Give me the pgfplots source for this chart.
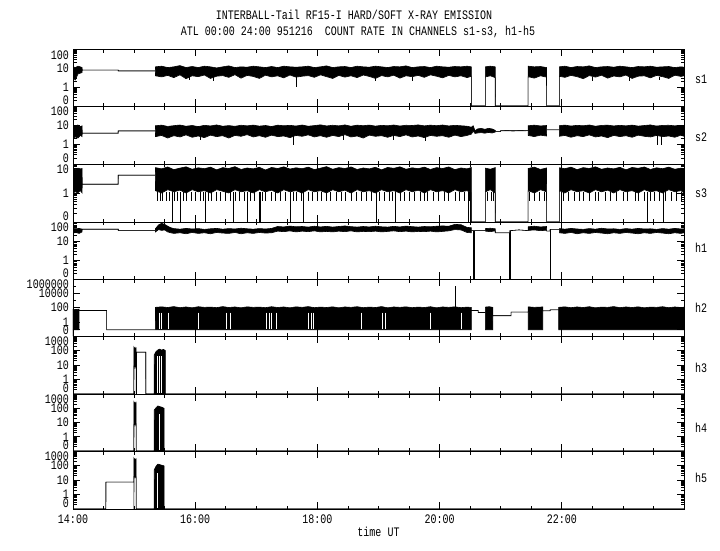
\documentclass[border=0pt]{standalone}
\usepackage{fontspec}
\setmainfont{Liberation Mono}[FakeStretch=0.77]
\usepackage{pgfplots}
\usepackage{pgfplotstable}
\pgfplotsset{compat=1.18}
\newcommand\gf{\fontsize{13pt}{14pt}\selectfont}
\newcommand\bl[1]{\raisebox{1.2pt}[0pt][0pt]{#1}}
\newcommand\tl[1]{\raisebox{-9.8pt}[0pt][0pt]{#1}}

\pgfplotstableread{
x lo hi
14.00 3.0 12
14.04 2.4 11
14.08 5.0 13
14.12 5.5 12
14.15 6.0 11
14.151 8.1 8.1
14.74 8.1 8.1
14.741 7.2 7.2
15.349 7.2 7.2
15.35 4.0 12
15.45 3.5 13
15.55 4.2 11
15.65 3.2 12
15.75 4.5 14
15.85 2.8 11
15.95 4.0 12.5
16.05 3.6 11
16.15 4.4 13
16.25 2.9 12
16.35 3.8 10.5
16.45 4.1 12
16.55 3.3 13.5
16.65 4.6 11
16.75 3.0 12
16.85 4.2 11.5
16.95 3.7 13
17.05 2.9 12
17.15 4.3 11
17.25 3.5 12.5
17.35 4.0 11
17.45 3.1 13
17.55 4.4 12
17.65 3.4 11.5
17.75 3.8 12
17.85 4.1 13
17.95 3.3 11
18.05 4.5 12
18.15 3.6 13.5
18.25 2.9 11
18.35 4.2 12
18.45 3.4 12.5
18.55 4.0 11
18.65 3.2 13
18.75 4.4 12
18.85 3.7 11.5
18.95 2.9 13
19.05 4.1 12
19.15 3.5 11
19.25 4.3 12.5
19.35 3.0 12
19.45 4.0 13.5
19.55 3.6 11
19.65 4.2 12
19.75 3.3 12.5
19.85 4.5 11
19.95 3.8 13
20.05 3.1 12
20.15 4.2 11.5
20.25 3.5 12.5
20.35 4.0 12
20.45 3.2 13
20.52 3.8 12
20.521 0.1 0.1
20.749 0.1 0.1
20.75 3.5 12
20.83 4.0 13
20.91 3.2 12
20.911 0.1 0.1
21.449 0.1 0.1
21.45 3.6 13
21.55 3.0 12
21.65 4.0 12.5
21.75 3.4 11
21.751 0.1 0.1
21.959 0.1 0.1
21.96 3.8 12
22.05 3.3 13
22.15 4.2 11
22.25 3.6 12.5
22.35 2.8 12
22.45 4.1 13.5
22.55 3.4 11
22.65 4.3 12
22.75 3.0 12.5
22.85 3.9 11.5
22.95 3.5 13
23.05 4.4 12
23.15 2.9 11
23.25 3.8 12.5
23.35 4.0 12
23.45 3.1 13
23.55 4.2 11.5
23.65 3.6 12
23.75 2.9 12.5
23.85 4.3 11
23.95 3.7 12
24.00 4.0 11.5
}\tsone

\pgfplotstableread{
x lo hi
14.00 2.1 10
14.04 2.5 9
14.08 2.2 10.4
14.12 3.0 8.5
14.15 2.6 9.5
14.151 3.9 3.9
14.74 3.9 3.9
14.741 5.1 5.1
15.349 5.1 5.1
15.35 2.6 9.5
15.45 3.0 10.2
15.55 2.2 8.8
15.65 2.9 9.6
15.75 2.5 10.4
15.85 3.2 9.0
15.95 2.4 9.8
16.05 2.8 8.6
16.15 2.3 10.0
16.25 3.1 9.3
16.35 2.6 10.5
16.45 2.9 9.0
16.55 2.2 9.7
16.65 3.0 8.9
16.75 2.7 10.1
16.85 3.3 9.4
16.95 2.5 10.3
17.05 2.9 9.1
17.15 2.4 9.8
17.25 3.1 8.7
17.35 2.6 10.2
17.45 2.8 9.5
17.55 2.3 10.0
17.65 3.0 9.2
17.75 2.7 10.4
17.85 3.2 9.0
17.95 2.5 9.7
18.05 2.9 10.6
18.15 2.4 9.3
18.25 3.0 10.1
18.35 2.6 9.4
18.45 3.3 10.5
18.55 2.5 9.0
18.65 2.8 10.2
18.75 2.2 9.6
18.85 3.1 10.3
18.95 2.7 9.1
19.05 2.9 10.0
19.15 2.4 9.5
19.25 3.0 10.4
19.35 2.6 9.2
19.45 3.2 10.1
19.55 2.5 9.8
19.65 2.8 10.5
19.75 2.3 9.4
19.85 3.0 10.2
19.95 2.7 9.6
20.05 2.9 10.4
20.15 2.4 9.3
20.25 3.1 10.0
20.35 2.6 9.5
20.45 3.0 9.0
20.52 3.5 8.0
20.55 5.0 9.5
20.58 3.8 5.2
20.62 4.0 6.5
20.68 4.2 7.0
20.74 3.9 6.2
20.80 4.3 7.0
20.86 4.0 6.5
20.91 4.5 5.5
20.92 4.7 4.7
21.00 4.7 4.7
21.001 5.3 5.3
21.20 5.1 5.5
21.449 5.3 5.3
21.45 3.0 9.5
21.55 2.6 10.2
21.65 3.1 9.3
21.75 2.8 9.8
21.751 5.8 5.8
21.959 5.8 5.8
21.96 2.7 9.6
22.05 3.0 10.3
22.15 2.4 9.2
22.25 2.9 10.0
22.35 2.6 9.5
22.45 3.2 10.4
22.55 2.5 9.0
22.65 2.8 9.9
22.75 2.3 10.2
22.85 3.0 9.3
22.95 2.6 10.0
23.05 2.9 9.4
23.15 2.4 10.3
23.25 3.1 9.1
23.35 2.7 9.8
23.45 2.5 10.5
23.55 3.0 9.2
23.65 2.6 9.9
23.75 2.8 10.1
23.85 2.4 9.4
23.95 3.1 10.0
24.00 2.7 9.6
}\tstwo

\pgfplotstableread{
x lo hi
14.00 1.0 7.0
14.04 1.1 6.5
14.08 1.0 7.2
14.12 1.2 6.8
14.15 1.0 7.0
14.151 2.0 2.0
14.74 2.0 2.0
14.741 4.1 4.1
15.349 4.1 4.1
15.35 1.2 7.5
15.45 1.0 6.8
15.55 1.3 7.9
15.65 1.1 6.4
15.75 1.25 7.2
15.85 1.0 8.0
15.95 1.3 6.6
16.05 1.1 7.4
16.15 1.2 6.9
16.25 1.0 7.8
16.35 1.3 6.3
16.45 1.15 7.5
16.55 1.0 7.0
16.65 1.3 8.1
16.75 1.1 6.5
16.85 1.2 7.3
16.95 1.0 6.8
17.05 1.3 7.7
17.15 1.1 6.2
17.25 1.25 7.6
17.35 1.0 7.0
17.45 1.3 8.0
17.55 1.1 6.7
17.65 1.2 7.4
17.75 1.0 6.9
17.85 1.3 7.8
17.95 1.1 6.4
18.05 1.2 7.2
18.15 1.0 8.1
18.25 1.3 6.6
18.35 1.1 7.5
18.45 1.25 7.0
18.55 1.0 7.9
18.65 1.3 6.5
18.75 1.1 7.3
18.85 1.2 6.8
18.95 1.0 7.7
19.05 1.3 6.3
19.15 1.1 7.6
19.25 1.2 7.1
19.35 1.0 8.0
19.45 1.3 6.6
19.55 1.1 7.4
19.65 1.25 6.9
19.75 1.0 7.8
19.85 1.3 6.5
19.95 1.1 7.5
20.05 1.2 7.0
20.15 1.0 7.9
20.25 1.3 6.4
20.35 1.1 7.3
20.45 1.2 6.8
20.52 1.0 7.6
20.521 0.1 0.1
20.749 0.1 0.1
20.75 1.1 7.2
20.83 1.3 6.6
20.91 1.0 7.5
20.911 0.1 0.1
21.449 0.1 0.1
21.45 1.2 7.0
21.55 1.0 7.8
21.65 1.3 6.5
21.75 1.1 7.3
21.751 0.1 0.1
21.959 0.1 0.1
21.96 1.2 7.4
22.05 1.0 6.9
22.15 1.3 7.8
22.25 1.1 6.4
22.35 1.2 7.5
22.45 1.0 7.0
22.55 1.3 8.0
22.65 1.1 6.6
22.75 1.25 7.3
22.85 1.0 6.8
22.95 1.3 7.7
23.05 1.1 6.3
23.15 1.2 7.6
23.25 1.0 7.1
23.35 1.3 7.9
23.45 1.1 6.5
23.55 1.2 7.4
23.65 1.0 6.9
23.75 1.3 7.8
23.85 1.1 6.6
23.95 1.2 7.2
24.00 1.0 7.0
}\tsthree

\pgfplotstableread{
x lo hi
14.00 26 46
14.05 28 44
14.10 25 46
14.15 30 42
14.151 41.5 41.5
14.74 41.5 41.5
14.741 35 35
15.349 35 35
15.35 30 45
15.40 40 70
15.45 36 85
15.50 38 75
15.55 30 60
15.60 27 50
15.65 25 45
15.75 27 42
15.85 24 46
15.95 28 43
16.05 25 45
16.15 27 41
16.25 24 44
16.35 28 46
16.45 26 42
16.55 25 45
16.65 28 43
16.75 24 47
16.85 27 44
16.95 25 42
17.05 28 45
17.15 26 43
17.25 27 46
17.35 33 58
17.45 31 55
17.55 34 61
17.65 30 56
17.75 33 58
17.85 31 54
17.95 34 60
18.05 30 55
18.15 32 59
18.25 30 54
18.35 33 58
18.45 31 62
18.55 34 57
18.65 30 54
18.75 32 58
18.85 31 55
18.95 33 60
19.05 30 56
19.15 32 54
19.25 34 59
19.35 31 55
19.45 33 61
19.55 30 57
19.65 32 54
19.75 31 58
19.85 33 56
19.95 30 60
20.05 32 62
20.15 34 60
20.25 40 75
20.35 38 72
20.45 28 52
20.52 27 50
20.521 35 35
20.749 35 35
20.75 33 45
20.83 31 47
20.91 34 44
20.911 27 27
21.149 27 27
21.15 35 35
21.30 38 38
21.449 35 35
21.45 36 56
21.55 38 60
21.65 35 55
21.75 37 58
21.751 33 33
21.809 33 33
21.81 41 41
21.959 41 41
21.96 27 45
22.05 25 42
22.15 28 46
22.25 24 43
22.35 27 41
22.45 25 45
22.55 28 42
22.65 26 47
22.75 24 43
22.85 27 44
22.95 25 41
23.05 28 45
23.15 26 42
23.25 24 46
23.35 27 43
23.45 25 44
23.55 28 41
23.65 26 45
23.75 24 42
23.85 27 46
23.95 25 43
24.00 27 44
}\thone

\pgfplotstableread{
x lo hi
14.00 0.08 60
14.05 0.08 55
14.10 0.08 63
14.101 40 40
14.55 40 40
14.551 0.08 0.08
15.349 0.08 0.08
15.35 0.08 110
15.45 0.08 130
15.55 0.08 105
15.65 0.08 140
15.75 0.08 100
15.85 0.08 125
15.95 0.08 95
16.05 0.08 135
16.15 0.08 110
16.25 0.08 120
16.35 0.08 100
16.45 0.08 140
16.55 0.08 105
16.65 0.08 125
16.75 0.08 95
16.85 0.08 130
16.95 0.08 110
17.05 0.08 120
17.15 0.08 100
17.25 0.08 135
17.35 0.08 105
17.45 0.08 125
17.55 0.08 95
17.65 0.08 130
17.75 0.08 110
17.85 0.08 140
17.95 0.08 100
18.05 0.08 120
18.15 0.08 105
18.25 0.08 130
18.35 0.08 95
18.45 0.08 125
18.55 0.08 110
18.65 0.08 135
18.75 0.08 100
18.85 0.08 120
18.95 0.08 105
19.05 0.08 140
19.15 0.08 95
19.25 0.08 125
19.35 0.08 110
19.45 0.08 130
19.55 0.08 100
19.65 0.08 120
19.75 0.08 105
19.85 0.08 135
19.95 0.08 95
20.05 0.08 125
20.15 0.08 110
20.25 0.08 130
20.35 0.08 100
20.45 0.08 120
20.52 0.08 105
20.521 40 40
20.63 40 40
20.631 21 21
20.749 21 21
20.75 0.08 120
20.81 0.08 135
20.87 0.08 110
20.871 7.3 7.3
21.17 7.3 7.3
21.171 24 24
21.449 24 24
21.45 0.08 130
21.55 0.08 110
21.69 0.08 125
21.691 36 36
21.81 36 36
21.811 50 50
21.949 50 50
21.95 0.08 110
22.05 0.08 130
22.15 0.08 100
22.25 0.08 125
22.35 0.08 105
22.45 0.08 135
22.55 0.08 95
22.65 0.08 120
22.75 0.08 110
22.85 0.08 140
22.95 0.08 100
23.05 0.08 125
23.15 0.08 105
23.25 0.08 130
23.35 0.08 95
23.45 0.08 120
23.55 0.08 110
23.65 0.08 135
23.75 0.08 100
23.85 0.08 125
23.95 0.08 105
24.00 0.08 115
}\thtwo

\pgfplotstableread{
x lo hi
14.00 0.1 0.1
14.997 0.1 0.1
14.998 8 165
15.008 12 130
15.016 7 160
15.025 10 120
15.033 9 140
15.034 0.1 0.1
15.039 0.1 0.1
15.04 76 76
15.19 76 76
15.191 0.1 0.1
15.329 0.1 0.1
15.33 0.1 50
15.36 0.1 85
15.39 0.1 110
15.42 0.1 125
15.45 0.1 105
15.48 0.1 120
15.51 0.1 100
15.511 0.1 0.1
24.00 0.1 0.1
}\ththree

\pgfplotstableread{
x lo hi
14.00 0.1 0.1
14.997 0.1 0.1
14.998 7 275
15.008 10 220
15.016 6.6 260
15.025 9 200
15.033 8 240
15.034 0.1 0.1
15.329 0.1 0.1
15.33 0.1 75
15.36 0.1 110
15.39 0.1 145
15.42 0.1 130
15.45 0.1 120
15.49 0.1 100
15.491 0.1 0.1
24.00 0.1 0.1
}\thfour

\pgfplotstableread{
x lo hi
14.00 0.1 0.1
14.539 0.1 0.1
14.54 7.2 7.2
14.996 7.2 7.2
14.997 0.1 0.1
14.998 17 315
15.008 20 250
15.016 15 290
15.025 18 220
15.033 16 260
15.034 0.1 0.1
15.329 0.1 0.1
15.33 0.1 50
15.36 0.1 90
15.39 0.1 125
15.42 0.1 115
15.45 0.1 105
15.49 0.1 95
15.491 0.1 0.1
24.00 0.1 0.1
}\thfive

\pgfplotsset{
  panel/.style={
    scale only axis, width=611pt,
    xmin=14, xmax=24,
    xtick={14,16,18,20,22,24},
    minor xtick={14.5,15,15.5,16.5,17,17.5,18.5,19,19.5,20.5,21,21.5,22.5,23,23.5},
    xticklabels={,,,,,},
    tick align=inside,
    major tick length=7pt, minor tick length=3.5pt,
    axis line style={line width=0.8pt},
    tick style={black, line width=0.7pt},
    tick label style={font=\gf},
    yticklabel style={inner sep=1pt, xshift=-3pt},
    axis on top,
    unbounded coords=jump,
  },
  mA/.style={minor ytick={0.2,0.3,0.4,0.5,0.6,0.7,0.8,0.9,2,3,4,5,6,7,8,9,20,30,40,50,60,70,80,90}},
  mB/.style={minor ytick={0.2,0.3,0.4,0.5,0.6,0.7,0.8,0.9,2,3,4,5,6,7,8,9}},
  mC/.style={minor ytick={0.2,0.3,0.4,0.5,0.6,0.7,0.8,0.9,2,3,4,5,6,7,8,9,20,30,40,50,60,70,80,90,200,300,400,500,600,700,800,900}},
  band/.style={black, line width=0.6pt, mark=none},
  spk/.style={black, line width=0.7pt, mark=none},
  wspk/.style={white, line width=0.9pt, mark=none},
}
\newcommand\bandplot[1]{%
  \addplot[black, fill=black, line width=0.6pt, mark=none] table[x=x,y=hi]{#1} -- (rel axis cs:1,0) -- (rel axis cs:0,0) -- cycle;
  \addplot[fill=white, draw=none, mark=none] table[x=x,y=lo]{#1} -- (rel axis cs:1,0) -- (rel axis cs:0,0) -- cycle;
  \addplot[band] table[x=x,y=lo]{#1};
}

\begin{document}
\begin{tikzpicture}
\path[use as bounding box] (0pt,0pt) rectangle (720pt,550pt);
\node[font=\gf] at (354pt,535pt) {INTERBALL-Tail RF15-I HARD/SOFT X-RAY EMISSION};
\node[font=\gf] at (358pt,518pt) {ATL 00:00 24:00 951216\ \ COUNT RATE IN CHANNELS s1-s3, h1-h5};

% s1
\begin{axis}[panel, ymode=log, mA, anchor=south west, at={(73pt,444pt)}, height=56.5pt, ymin=0.1, ymax=100,
  ytick={0.1,1,10,100}, yticklabels={\bl{0},1,10,\tl{100}}]
\bandplot{\tsone}
\addplot[spk] coordinates {
(15.90,4)(15.90,2.5)(15.90,nan)
(16.30,3.5)(16.30,2.0)(16.30,nan)
(17.65,3.5)(17.65,1.0)(17.65,nan)
(18.95,3.5)(18.95,2.2)(18.95,nan)
(19.55,3.5)(19.55,2.0)(19.55,nan)
(22.50,3.5)(22.50,2.2)(22.50,nan)
(23.10,3.5)(23.10,2.0)(23.10,nan)
(23.60,3.5)(23.60,2.4)(23.60,nan)
};
\end{axis}

% s2
\begin{axis}[panel, ymode=log, mA, anchor=south west, at={(73pt,386pt)}, height=58pt, ymin=0.1, ymax=100,
  ytick={0.1,1,10,100}, yticklabels={\bl{0},1,10,\tl{100}}]
\bandplot{\tstwo}
\addplot[spk] coordinates {
(16.08,3)(16.08,1.7)(16.08,nan)
(17.60,3)(17.60,0.95)(17.60,nan)
(18.42,3)(18.42,1.7)(18.42,nan)
(19.24,3)(19.24,1.7)(19.24,nan)
(19.76,3)(19.76,1.6)(19.76,nan)
(23.57,3)(23.57,1.0)(23.57,nan)
(23.63,3)(23.63,1.0)(23.63,nan)
};
\end{axis}

% s3
\begin{axis}[panel, ymode=log, mB, anchor=south west, at={(73pt,328pt)}, height=58pt, ymin=0.1, ymax=10,
  ytick={0.1,1,10}, yticklabels={\bl{0},1,\tl{10}}]
\bandplot{\tsthree}
\addplot[spk] coordinates {
(15.38,1.1)(15.38,0.52)(15.38,nan) (15.43,1.1)(15.43,0.52)(15.43,nan)
(15.47,1.1)(15.47,0.52)(15.47,nan) (15.52,1.1)(15.52,0.52)(15.52,nan)
(15.58,1.1)(15.58,0.52)(15.58,nan) (15.66,1.1)(15.66,0.52)(15.66,nan)
(15.71,1.1)(15.71,0.52)(15.71,nan) (15.80,1.1)(15.80,0.52)(15.80,nan)
(15.86,1.1)(15.86,0.52)(15.86,nan) (15.93,1.1)(15.93,0.52)(15.93,nan)
(16.00,1.1)(16.00,0.52)(16.00,nan) (16.08,1.1)(16.08,0.52)(16.08,nan)
(16.13,1.1)(16.13,0.52)(16.13,nan) (16.22,1.1)(16.22,0.52)(16.22,nan)
(16.27,1.1)(16.27,0.52)(16.27,nan) (16.35,1.1)(16.35,0.52)(16.35,nan)
(16.41,1.1)(16.41,0.52)(16.41,nan) (16.50,1.1)(16.50,0.52)(16.50,nan)
(16.57,1.1)(16.57,0.52)(16.57,nan) (16.66,1.1)(16.66,0.52)(16.66,nan)
(16.72,1.1)(16.72,0.52)(16.72,nan) (16.80,1.1)(16.80,0.52)(16.80,nan)
(16.90,1.1)(16.90,0.52)(16.90,nan) (16.97,1.1)(16.97,0.52)(16.97,nan)
(17.10,1.1)(17.10,0.52)(17.10,nan) (17.15,1.1)(17.15,0.52)(17.15,nan)
(17.25,1.1)(17.25,0.52)(17.25,nan) (17.31,1.1)(17.31,0.52)(17.31,nan)
(17.40,1.1)(17.40,0.52)(17.40,nan) (17.47,1.1)(17.47,0.52)(17.47,nan)
(17.60,1.1)(17.60,0.52)(17.60,nan) (17.66,1.1)(17.66,0.52)(17.66,nan)
(17.73,1.1)(17.73,0.52)(17.73,nan) (17.85,1.1)(17.85,0.52)(17.85,nan)
(17.92,1.1)(17.92,0.52)(17.92,nan) (18.00,1.1)(18.00,0.52)(18.00,nan)
(18.07,1.1)(18.07,0.52)(18.07,nan) (18.15,1.1)(18.15,0.52)(18.15,nan)
(18.22,1.1)(18.22,0.52)(18.22,nan) (18.31,1.1)(18.31,0.52)(18.31,nan)
(18.40,1.1)(18.40,0.52)(18.40,nan) (18.45,1.1)(18.45,0.52)(18.45,nan)
(18.55,1.1)(18.55,0.52)(18.55,nan) (18.63,1.1)(18.63,0.52)(18.63,nan)
(18.72,1.1)(18.72,0.52)(18.72,nan) (18.80,1.1)(18.80,0.52)(18.80,nan)
(18.88,1.1)(18.88,0.52)(18.88,nan) (19.02,1.1)(19.02,0.52)(19.02,nan)
(19.10,1.1)(19.10,0.52)(19.10,nan) (19.18,1.1)(19.18,0.52)(19.18,nan)
(19.22,1.1)(19.22,0.52)(19.22,nan) (19.35,1.1)(19.35,0.52)(19.35,nan)
(19.43,1.1)(19.43,0.52)(19.43,nan) (19.50,1.1)(19.50,0.52)(19.50,nan)
(19.58,1.1)(19.58,0.52)(19.58,nan) (19.68,1.1)(19.68,0.52)(19.68,nan)
(19.75,1.1)(19.75,0.52)(19.75,nan) (19.80,1.1)(19.80,0.52)(19.80,nan)
(19.90,1.1)(19.90,0.52)(19.90,nan) (19.98,1.1)(19.98,0.52)(19.98,nan)
(20.08,1.1)(20.08,0.52)(20.08,nan) (20.15,1.1)(20.15,0.52)(20.15,nan)
(20.25,1.1)(20.25,0.52)(20.25,nan) (20.32,1.1)(20.32,0.52)(20.32,nan)
(20.40,1.1)(20.40,0.52)(20.40,nan) (20.48,1.1)(20.48,0.52)(20.48,nan)
(20.78,1.1)(20.78,0.52)(20.78,nan) (20.85,1.1)(20.85,0.52)(20.85,nan)
(20.88,1.1)(20.88,0.52)(20.88,nan) (21.47,1.1)(21.47,0.52)(21.47,nan)
(21.55,1.1)(21.55,0.52)(21.55,nan) (21.63,1.1)(21.63,0.52)(21.63,nan)
(21.71,1.1)(21.71,0.52)(21.71,nan) (22.02,1.1)(22.02,0.52)(22.02,nan)
(22.10,1.1)(22.10,0.52)(22.10,nan) (22.20,1.1)(22.20,0.52)(22.20,nan)
(22.28,1.1)(22.28,0.52)(22.28,nan) (22.35,1.1)(22.35,0.52)(22.35,nan)
(22.45,1.1)(22.45,0.52)(22.45,nan) (22.55,1.1)(22.55,0.52)(22.55,nan)
(22.60,1.1)(22.60,0.52)(22.60,nan) (22.72,1.1)(22.72,0.52)(22.72,nan)
(22.80,1.1)(22.80,0.52)(22.80,nan) (22.90,1.1)(22.90,0.52)(22.90,nan)
(23.00,1.1)(23.00,0.52)(23.00,nan) (23.08,1.1)(23.08,0.52)(23.08,nan)
(23.20,1.1)(23.20,0.52)(23.20,nan) (23.25,1.1)(23.25,0.52)(23.25,nan)
(23.35,1.1)(23.35,0.52)(23.35,nan) (23.45,1.1)(23.45,0.52)(23.45,nan)
(23.52,1.1)(23.52,0.52)(23.52,nan) (23.60,1.1)(23.60,0.52)(23.60,nan)
(23.70,1.1)(23.70,0.52)(23.70,nan) (23.80,1.1)(23.80,0.52)(23.80,nan)
(23.88,1.1)(23.88,0.52)(23.88,nan) (23.95,1.1)(23.95,0.52)(23.95,nan)
(15.62,1.1)(15.62,0.1)(15.62,nan) (15.76,1.1)(15.76,0.1)(15.76,nan)
(16.16,1.1)(16.16,0.1)(16.16,nan) (16.62,1.1)(16.62,0.1)(16.62,nan)
(16.85,1.1)(16.85,0.1)(16.85,nan) (17.05,1.1)(17.05,0.1)(17.05,nan)
(17.07,1.1)(17.07,0.1)(17.07,nan) (17.56,1.1)(17.56,0.1)(17.56,nan)
(17.77,1.1)(17.77,0.1)(17.77,nan) (18.96,1.1)(18.96,0.1)(18.96,nan)
(19.27,1.1)(19.27,0.1)(19.27,nan) (20.47,1.1)(20.47,0.1)(20.47,nan)
(20.50,1.1)(20.50,0.1)(20.50,nan) (21.99,1.1)(21.99,0.1)(21.99,nan)
(23.40,1.1)(23.40,0.1)(23.40,nan) (23.67,1.1)(23.67,0.1)(23.67,nan)
};
\end{axis}

% h1
\begin{axis}[panel, ymode=log, mA, anchor=south west, at={(73pt,271pt)}, height=57pt, ymin=0.1, ymax=100,
  ytick={0.1,1,10,100}, yticklabels={\bl{0},1,10,\tl{100}}]
\bandplot{\thone}
\addplot[spk] coordinates {
(20.55,35)(20.55,0.1)(20.55,nan)
(20.575,35)(20.575,0.1)(20.575,nan)
(21.145,27)(21.145,0.1)(21.145,nan)
(21.15,27)(21.15,0.1)(21.15,nan)
(21.155,35)(21.155,0.1)(21.155,nan)
(21.805,33)(21.805,0.1)(21.805,nan)
(21.81,33)(21.81,0.1)(21.81,nan)
(21.815,41)(21.815,0.1)(21.815,nan)
};
\end{axis}

% h2
\begin{axis}[panel, ymode=log, anchor=south west, at={(73pt,214pt)}, height=57pt, ymin=0.011, ymax=1000000,
  ytick={0.08,1,100,10000,1000000}, yticklabels={0,1,100,10000,\tl{1000000}},
  minor ytick={10,1000,100000}]
\bandplot{\thtwo}
\addplot[wspk] coordinates {
(15.41,20)(15.41,0.09)(15.41,nan) (15.45,20)(15.45,0.09)(15.45,nan)
(15.56,20)(15.56,0.09)(15.56,nan) (16.06,20)(16.06,0.09)(16.06,nan)
(16.51,20)(16.51,0.09)(16.51,nan) (16.57,20)(16.57,0.09)(16.57,nan)
(17.17,20)(17.17,0.09)(17.17,nan) (17.21,20)(17.21,0.09)(17.21,nan)
(17.25,20)(17.25,0.09)(17.25,nan) (17.33,20)(17.33,0.09)(17.33,nan)
(17.85,20)(17.85,0.09)(17.85,nan) (17.90,20)(17.90,0.09)(17.90,nan)
(17.93,20)(17.93,0.09)(17.93,nan) (18.72,20)(18.72,0.09)(18.72,nan)
(19.07,20)(19.07,0.09)(19.07,nan) (19.12,20)(19.12,0.09)(19.12,nan)
(19.85,20)(19.85,0.09)(19.85,nan) (20.36,20)(20.36,0.09)(20.36,nan)
};
\addplot[spk] coordinates {(20.26,100)(20.26,100000)};
\end{axis}

% h3
\begin{axis}[panel, ymode=log, mC, anchor=south west, at={(73pt,156pt)}, height=58pt, ymin=0.1, ymax=1000,
  ytick={0.1,1,10,100,1000}, yticklabels={\bl{0},1,10,100,\tl{1000}}]
\bandplot{\ththree}
\addplot[wspk] coordinates {
(15.38,40)(15.38,0.12)(15.38,nan) (15.42,40)(15.42,0.12)(15.42,nan) (15.45,40)(15.45,0.12)(15.45,nan)
};
\end{axis}

% h4
\begin{axis}[panel, ymode=log, mC, anchor=south west, at={(73pt,99pt)}, height=57pt, ymin=0.1, ymax=1000,
  ytick={0.1,1,10,100,1000}, yticklabels={\bl{0},1,10,100,\tl{1000}}]
\bandplot{\thfour}
\addplot[wspk] coordinates {(15.41,40)(15.41,0.12)};
\end{axis}

% h5
\begin{axis}[panel, ymode=log, mC, anchor=south west, at={(73pt,41pt)}, height=58pt, ymin=0.1, ymax=1000,
  ytick={0.1,1,10,100,1000}, yticklabels={\bl{0},1,10,100,\tl{1000}},
  xticklabels={14:00,16:00,18:00,20:00,22:00,{}},
  xticklabel style={yshift=-2pt},
  xlabel={time UT}, xlabel style={font=\gf, yshift=3pt}]
\bandplot{\thfive}
\addplot[wspk] coordinates {(15.38,30)(15.38,0.12)};
\end{axis}

\node[font=\gf] at (701pt,471pt) {s1};
\node[font=\gf] at (701pt,413pt) {s2};
\node[font=\gf] at (701pt,357pt) {s3};
\node[font=\gf] at (701pt,302pt) {h1};
\node[font=\gf] at (701pt,242pt) {h2};
\node[font=\gf] at (701pt,182pt) {h3};
\node[font=\gf] at (701pt,122pt) {h4};
\node[font=\gf] at (701pt,72pt) {h5};
\end{tikzpicture}
\end{document}
